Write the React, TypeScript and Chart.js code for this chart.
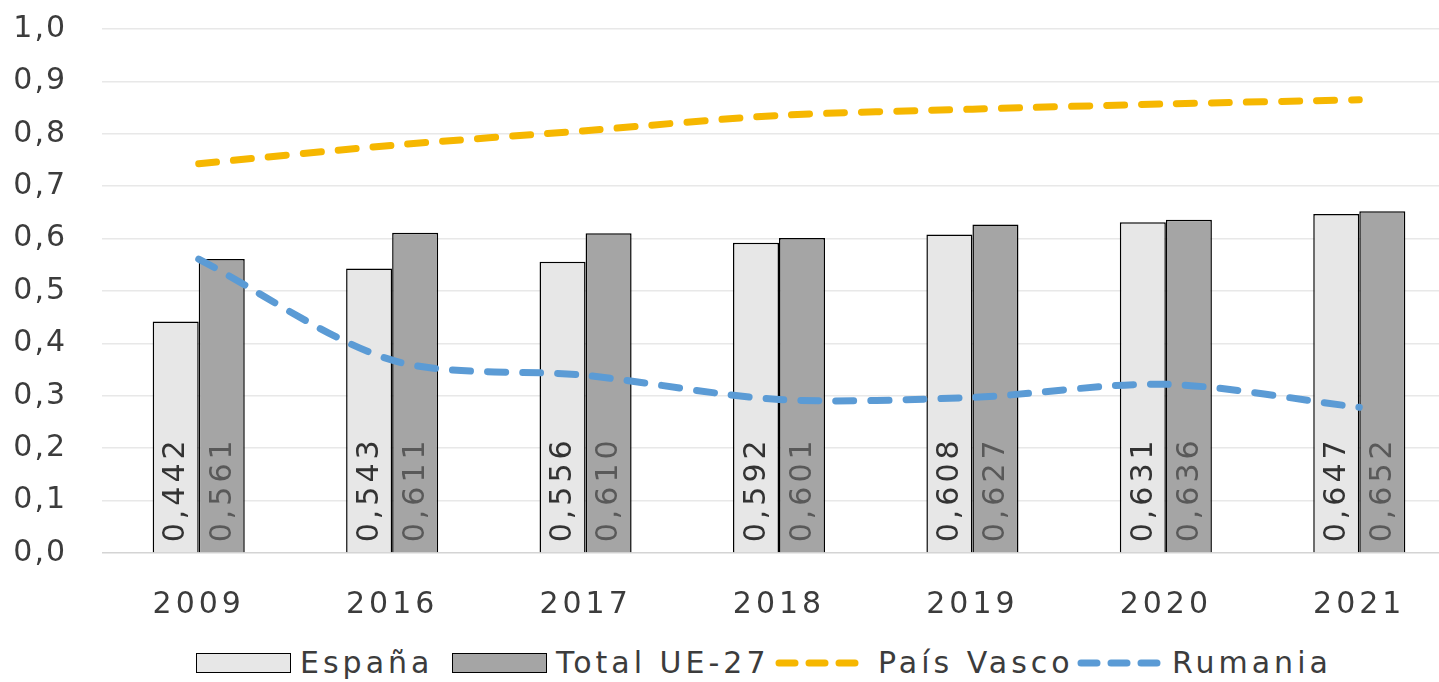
import React, { useEffect, useRef } from "react";
import { Chart, registerables } from "chart.js";

Chart.register(...registerables);

const years = ["2009", "2016", "2017", "2018", "2019", "2020", "2021"];
const espana = [0.442, 0.543, 0.556, 0.592, 0.608, 0.631, 0.647];
const ue27 = [0.561, 0.611, 0.61, 0.601, 0.627, 0.636, 0.652];
const paisVasco = [0.743, 0.778, 0.806, 0.835, 0.847, 0.857, 0.865];
const rumania = [0.561, 0.368, 0.339, 0.293, 0.297, 0.322, 0.278];

const FONT = "'DejaVu Sans', sans-serif";
const TEXT = "#3c3c3c";
const C_ES = "#e7e7e7";
const C_UE = "#a5a5a5";
const C_PV = "#f6b700";
const C_RO = "#5b9bd5";

const fmt = (v: number, d: number) => v.toFixed(d).replace(".", ",");

const spacing = {
  id: "spacing",
  beforeDraw(chart: any) {
    (chart.ctx as any).letterSpacing = "2px";
    const xs = chart.scales.x;
    if (xs && !xs.__patched) {
      const orig = xs.drawLabels;
      xs.drawLabels = function (area: any) {
        const c = this.ctx as any;
        const prev = c.letterSpacing;
        c.letterSpacing = "4px";
        orig.call(this, area);
        c.letterSpacing = prev;
      };
      xs.__patched = true;
    }
  },
  afterDraw(chart: any) {
    (chart.ctx as any).letterSpacing = "0px";
  },
};

const barLabels = {
  id: "barLabels",
  afterDatasetsDraw(chart: any) {
    const ctx = chart.ctx;
    const colors = ["#333333", "#595959"];
    [0, 1].forEach((di) => {
      const meta = chart.getDatasetMeta(di);
      const data = chart.data.datasets[di].data as number[];
      meta.data.forEach((el: any, i: number) => {
        ctx.save();
        ctx.translate(el.x + 1, el.base - 10);
        ctx.rotate(-Math.PI / 2);
        ctx.font = `30px ${FONT}`;
        (ctx as any).letterSpacing = "4px";
        ctx.fillStyle = colors[di];
        ctx.textAlign = "left";
        ctx.textBaseline = "middle";
        ctx.fillText(fmt(data[i], 3), 0, 0);
        ctx.restore();
      });
    });
  },
};

function DashSample({ color }: { color: string }) {
  return (
    <svg width={92} height={20} style={{ display: "block" }}>
      <line
        x1={5}
        y1={10}
        x2={88}
        y2={10}
        stroke={color}
        strokeWidth={7}
        strokeLinecap="round"
        strokeDasharray="16 14"
      />
    </svg>
  );
}

function BoxSample({ color }: { color: string }) {
  return (
    <div
      style={{
        width: 93,
        height: 18,
        background: color,
        border: "1.5px solid #000",
        boxSizing: "content-box",
      }}
    />
  );
}

export default function App() {
  const ref = useRef<HTMLCanvasElement | null>(null);

  useEffect(() => {
    if (!ref.current) return;
    const chart = new Chart(ref.current, {
      type: "bar",
      data: {
        labels: years,
        datasets: [
          {
            type: "bar",
            label: "España",
            data: espana,
            backgroundColor: C_ES,
            borderColor: "#000",
            borderWidth: 1.5,
            order: 2,
          },
          {
            type: "bar",
            label: "Total UE-27",
            data: ue27,
            backgroundColor: C_UE,
            borderColor: "#000",
            borderWidth: 1.5,
            order: 2,
          },
          {
            type: "line",
            label: "País Vasco",
            data: paisVasco,
            borderColor: C_PV,
            borderWidth: 7,
            borderDash: [18, 17],
            borderCapStyle: "round",
            pointRadius: 0,
            tension: 0.3,
            fill: false,
            order: 1,
          },
          {
            type: "line",
            label: "Rumania",
            data: rumania,
            borderColor: C_RO,
            borderWidth: 7,
            borderDash: [18, 17],
            borderCapStyle: "round",
            pointRadius: 0,
            tension: 0.3,
            fill: false,
            order: 1,
          },
        ] as any,
      },
      options: {
        animation: false,
        responsive: true,
        maintainAspectRatio: false,
        layout: { padding: { top: 4, right: 0, left: 0, bottom: 0 } },
        plugins: {
          legend: { display: false },
          tooltip: { enabled: false },
        },
        datasets: {
          bar: { categoryPercentage: 0.476, barPercentage: 1 },
        },
        scales: {
          x: {
            grid: { display: false },
            border: { display: false },
            ticks: {
              color: TEXT,
              font: { family: FONT, size: 30 },
              padding: 26,
              maxRotation: 0,
            },
            afterFit(scale: any) {
              scale.height = 77;
            },
          },
          y: {
            min: 0,
            max: 1,
            grid: {
              drawTicks: false,
              color: (c: any) => (c.tick && c.tick.value === 0 ? "#d4d4d4" : "#e8e8e8"),
              lineWidth: 1.5,
            },
            border: { display: false },
            ticks: {
              stepSize: 0.1,
              color: TEXT,
              font: { family: FONT, size: 30 },
              padding: 35,
              callback: (v: any) => fmt(Number(v), 1),
            },
            afterFit(scale: any) {
              scale.width = 102;
            },
          },
        },
      },
      plugins: [spacing, barLabels],
    });
    return () => chart.destroy();
  }, []);

  const textStyle: React.CSSProperties = {
    position: "absolute",
    top: 0,
    fontFamily: FONT,
    fontSize: 30,
    letterSpacing: "4px",
    color: TEXT,
    lineHeight: "30px",
    whiteSpace: "nowrap",
  };
  const sampleStyle = (left: number): React.CSSProperties => ({
    position: "absolute",
    left,
    top: 5,
  });

  return (
    <div
      style={{
        position: "fixed",
        left: 0,
        top: 0,
        width: 1439,
        height: 682,
        overflow: "hidden",
        background: "#fff",
      }}
    >
      <div style={{ position: "absolute", left: 0, top: -24, width: 1456, height: 654 }}>
        <canvas ref={ref} />
      </div>
      <div style={{ position: "absolute", left: 0, top: 648, width: 1439, height: 30 }}>
        <div style={sampleStyle(196)}>
          <BoxSample color={C_ES} />
        </div>
        <span style={{ ...textStyle, left: 300 }}>España</span>
        <div style={sampleStyle(452)}>
          <BoxSample color={C_UE} />
        </div>
        <span style={{ ...textStyle, left: 556 }}>Total UE-27</span>
        <div style={sampleStyle(774)}>
          <DashSample color={C_PV} />
        </div>
        <span style={{ ...textStyle, left: 878 }}>País Vasco</span>
        <div style={sampleStyle(1076)}>
          <DashSample color={C_RO} />
        </div>
        <span style={{ ...textStyle, left: 1172 }}>Rumania</span>
      </div>
    </div>
  );
}
